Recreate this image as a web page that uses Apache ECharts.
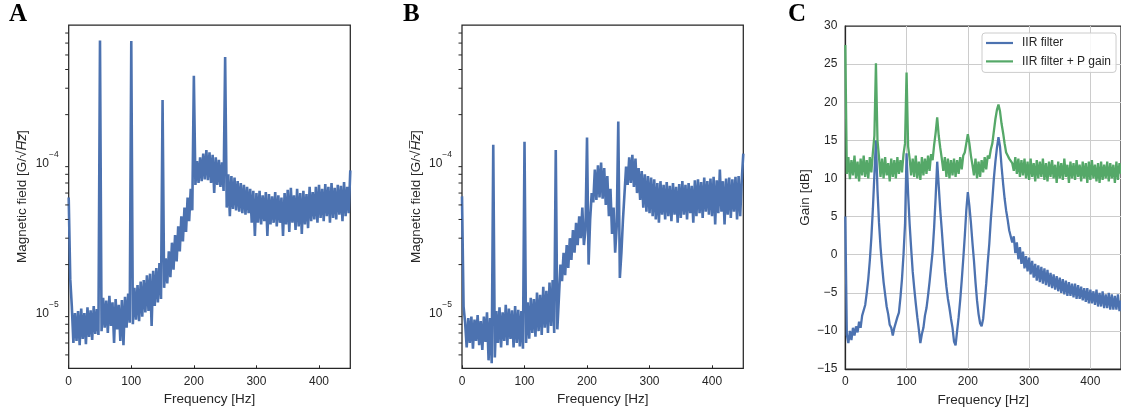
<!DOCTYPE html>
<html>
<head>
<meta charset="utf-8">
<title>Magnetic field spectra and filter gain</title>
<script src="https://cdn.jsdelivr.net/npm/echarts@6.0.0/dist/echarts.min.js"></script>
<style>
html, body { margin: 0; padding: 0; background: #fff; }
#chart { width: 1121px; height: 412px; }
</style>
</head>
<body>
<div id="chart"></div>
<script>
// spectra are sampled every 2.5 Hz, from 0 to 450 Hz
const FREQ_STEP = 2.5;

// panel A: magnetic field noise, in 1e-6 G/sqrt(Hz)
const fieldA = [
    56, 16, 10.5, 6.0, 9.5, 6.2, 9.8, 5.8, 10.2, 6.4,
    9.5, 5.9, 10.4, 6.6, 9.9, 6.3, 10.6, 6.9, 10.1, 6.8,
    624, 7.2, 12.0, 7.6, 11.5, 7.0, 12.4, 7.8, 11.2, 6.0,
    11.8, 7.4, 10.8, 6.2, 11.6, 5.8, 12.2, 7.6, 12.8, 8.2,
    620, 8.0, 14.0, 8.6, 14.6, 8.4, 15.4, 9.0, 15.8, 9.6,
    17.0, 9.8, 17.4, 7.8, 18.2, 10.6, 19.0, 11.2, 20.5, 11.8,
    250, 14.0, 22, 15, 24.5, 16.5, 28, 18.5, 31.5, 21,
    36, 24.5, 42, 28.5, 48, 33, 56, 39, 64, 46,
    363, 68, 98, 70, 104, 72, 110, 74, 116, 73,
    112, 70, 108, 60, 104, 68, 100, 66, 96, 62,
    484, 48, 80, 42, 78, 47, 76, 46, 72, 45,
    70, 44, 68, 43, 66, 44, 64, 38, 62, 31,
    60, 38, 62, 37, 58, 39, 61, 31, 59, 37,
    57, 38, 61, 36, 58, 38, 56, 31, 60, 37,
    63, 33, 65, 38, 58, 34, 64, 36, 60, 32,
    62, 37, 59, 35, 66, 39, 61, 40, 66, 38,
    68, 41, 64, 39, 69, 42, 66, 38, 70, 41,
    65, 40, 68, 43, 67, 39, 71, 42, 66, 44,
    85
];

// panel B: magnetic field noise, in 1e-6 G/sqrt(Hz)
const fieldB = [
    57, 10.5, 8.2, 5.6, 8.8, 6.0, 9.0, 5.5, 8.6, 6.2,
    9.2, 5.8, 8.4, 5.4, 9.0, 6.1, 9.6, 4.6, 8.8, 4.4,
    126, 4.8, 9.8, 6.0, 10.4, 5.6, 9.6, 6.2, 10.8, 5.8,
    10.2, 6.4, 9.9, 5.6, 10.6, 6.0, 10.0, 5.7, 9.8, 5.5,
    132, 6.0, 11.2, 6.4, 12.0, 7.0, 11.8, 6.6, 13.0, 7.2,
    12.6, 6.8, 14.2, 7.6, 13.4, 7.0, 15.2, 7.8, 15.8, 7.0,
    116, 7.4, 12.0, 20.0, 15.5, 24.0, 17.0, 27.0, 19.0, 30.0,
    21.5, 34.0, 24.0, 38.0, 27.0, 42.0, 30.0, 48.0, 27.0, 34.0,
    141, 20.0, 40.0, 60.0, 52.0, 86.0, 54.0, 92.0, 56.0, 96.0,
    55.0, 88.0, 50.0, 78.0, 42.0, 64.0, 32.0, 48.0, 24.0, 36.0,
    180, 16.3, 24.0, 40.0, 60.0, 90.0, 68.0, 104.0, 70.0, 108.0,
    66.0, 102.0, 60.0, 88.0, 54.0, 84.0, 48.0, 80.0, 45.0, 78.0,
    44.0, 76.0, 42.0, 74.0, 40.0, 70.0, 38.0, 72.0, 43.0, 68.0,
    40.0, 71.0, 42.0, 67.0, 39.0, 70.0, 43.0, 66.0, 38.0, 69.0,
    41.0, 72.0, 43.0, 68.0, 40.0, 70.0, 44.0, 67.0, 38.0, 73.0,
    42.0, 74.0, 44.0, 71.0, 41.0, 76.0, 45.0, 72.0, 43.0, 75.0,
    42.0, 77.0, 37.0, 73.0, 44.0, 86.0, 45.0, 72.0, 37.0, 75.0,
    43.0, 76.0, 41.0, 74.0, 45.0, 77.0, 40.0, 78.0, 42.0, 73.0,
    110
];

// panel C: gain in dB
const gainIir = [
    5.0, -10.5, -11.6, -10.0, -11.2, -9.6, -10.6, -9.4, -10.2, -8.8,
    -9.6, -8.0, -8.0, -6.6, -5.0, -3.2, -0.8, 2.2, 6.0, 10.5,
    15.0, 8.5, 4.2, 1.0, -1.4, -3.6, -5.2, -6.8, -7.8, -9.2,
    -9.6, -10.6, -9.6, -9.4, -8.2, -7.6, -5.6, -3.2, 0.0, 4.0,
    13.3, 8.0, 4.0, 0.8, -2.2, -4.4, -6.4, -8.2, -9.8, -11.6,
    -10.4, -9.6, -8.0, -7.0, -5.4, -3.6, -1.6, 0.4, 3.6, 7.6,
    12.2, 9.0, 5.8, 3.2, 0.4, -2.2, -4.2, -5.8, -7.0, -8.4,
    -9.6, -11.4, -11.9, -10.0, -8.2, -6.0, -3.4, -0.6, 2.4, 5.8,
    8.2, 6.4, 4.2, 1.6, -0.8, -3.6, -6.0, -7.8, -9.0, -9.4,
    -8.4, -6.2, -3.8, -1.0, 1.4, 4.6, 7.2, 10.0, 12.2, 14.0,
    15.4, 14.2, 11.6, 9.4, 7.4, 5.8, 4.6, 3.2, 3.0, 1.6,
    2.4, 0.2, 1.6, -0.6, 1.0, -1.2, 0.4, -1.8, -0.2, -2.2,
    -0.4, -2.6, -0.8, -3.0, -1.2, -3.4, -1.4, -3.6, -1.6, -3.8,
    -1.8, -4.0, -2.0, -4.2, -2.4, -4.4, -2.6, -4.6, -2.8, -4.8,
    -3.0, -5.0, -3.2, -5.2, -3.4, -5.4, -3.6, -5.4, -3.8, -5.6,
    -3.8, -5.8, -4.0, -5.8, -4.2, -6.0, -4.4, -6.2, -4.4, -6.4,
    -4.6, -6.4, -4.8, -6.6, -4.6, -6.8, -5.0, -6.8, -4.8, -7.0,
    -5.2, -7.0, -5.0, -7.2, -5.2, -7.2, -5.4, -7.2, -5.2, -7.4,
    -6.0
];

const gainIirP = [
    27.5, 10.6, 12.8, 9.9, 12.4, 10.4, 13.0, 10.0, 12.2, 9.6,
    12.6, 10.4, 13.0, 10.2, 12.4, 10.0, 12.8, 10.8, 13.4, 15.6,
    25.1, 15.0, 12.8, 10.2, 12.6, 10.0, 12.8, 10.4, 12.0, 9.6,
    12.6, 10.2, 12.4, 10.0, 12.8, 10.6, 12.4, 10.8, 13.2, 14.6,
    23.9, 14.2, 12.6, 10.4, 12.6, 10.2, 13.0, 10.0, 12.2, 9.8,
    12.8, 10.4, 12.6, 10.6, 13.0, 11.0, 13.2, 12.4, 14.4, 16.0,
    18.0, 15.6, 14.0, 12.6, 11.0, 12.8, 10.2, 12.6, 10.0, 12.4,
    10.4, 12.6, 10.2, 12.4, 10.6, 12.8, 11.2, 13.0, 13.4, 14.6,
    15.8, 14.6, 13.0, 11.8, 10.4, 12.6, 10.0, 12.2, 10.2, 12.4,
    10.8, 12.8, 11.2, 13.0, 12.6, 13.8, 14.6, 16.2, 17.8, 19.0,
    19.7, 18.8, 17.2, 16.0, 14.6, 13.4, 13.0, 12.6, 12.4, 12.0,
    11.0, 12.8, 10.6, 12.6, 10.2, 12.4, 10.4, 12.6, 10.0, 12.2,
    9.8, 12.6, 10.2, 12.0, 9.6, 12.4, 10.0, 12.2, 10.2, 12.6,
    9.8, 12.0, 9.6, 12.2, 10.2, 12.4, 10.0, 11.8, 9.4, 12.2,
    10.0, 12.0, 9.8, 12.6, 10.2, 11.8, 9.4, 12.2, 10.0, 12.0,
    9.8, 12.4, 10.2, 11.8, 9.6, 12.2, 10.0, 12.0, 9.4, 12.2,
    9.8, 12.4, 10.0, 11.8, 9.6, 12.0, 9.4, 12.2, 9.8, 11.8,
    10.0, 12.2, 9.6, 12.0, 10.0, 11.8, 9.4, 12.2, 9.8, 12.0,
    10.6
];

const seriesNames = ['IIR filter', 'IIR filter + P gain'];
const panelLetters = ['A', 'B', 'C'];

const BLUE = '#4C72B0';
const GREEN = '#55A868';
const INK = '#262626';
const FONT = '"Liberation Sans", Arial, sans-serif';

// log axis range of panels A and B (G/sqrt(Hz))
const logMin = 4.07e-6;
const logMax = 7.92e-4;

function toPairs(values, scale) {
    return values.map(function (v, i) {
        return [i * FREQ_STEP, v * scale];
    });
}

// minor ticks 2..9 x 10^k for the log axes
let minorTicks = [];
[-6, -5, -4].forEach(function (e) {
    for (let m = 2; m <= 9; m++) {
        let v = m * Math.pow(10, e);
        if (v > logMin && v < logMax) minorTicks.push([0, v]);
    }
});

function renderMinorTick(params, api) {
    let p = api.coord([api.value(0), api.value(1)]);
    return {
        type: 'line',
        shape: {x1: p[0] - 3.5, y1: p[1], x2: p[0], y2: p[1]},
        style: {stroke: INK, lineWidth: 1}
    };
}

function powerLabel(v) {
    let e = Math.round(Math.log10(v));
    return '{b|10}{s|' + (e < 0 ? '\u2212' + (-e) : e) + '}';
}

const powRich = {
    b: {fontSize: 12, color: INK, fontFamily: FONT, lineHeight: 20, verticalAlign: 'bottom'},
    s: {fontSize: 8.5, color: INK, fontFamily: FONT, lineHeight: 10, verticalAlign: 'top'}
};

const nameStyle = {fontSize: 13.5, color: INK, fontFamily: FONT};

function freqAxis(gridIndex, withGrid) {
    return {
        type: 'value',
        gridIndex: gridIndex,
        min: 0,
        max: 450,
        interval: 100,
        axisLine: {show: withGrid, onZero: false, lineStyle: {color: INK, width: 1.25}},
        axisTick: {show: !withGrid, inside: true, length: 3, lineStyle: {color: INK, width: 1}},
        axisLabel: {showMaxLabel: false, color: INK, fontSize: 12, fontFamily: FONT, margin: 7},
        splitLine: {show: withGrid, showMinLine: false, showMaxLine: false, lineStyle: {color: '#cccccc', width: 1}},
        name: 'Frequency [Hz]',
        nameLocation: 'middle',
        nameGap: 23,
        nameTextStyle: nameStyle
    };
}

function fieldAxis(gridIndex) {
    return {
        type: 'log',
        gridIndex: gridIndex,
        logBase: 10,
        min: logMin,
        max: logMax,
        axisLine: {show: false},
        axisTick: {show: false},
        splitLine: {show: false},
        axisLabel: {showMinLabel: false, showMaxLabel: false, margin: 10, formatter: powerLabel, rich: powRich},
        name: 'Magnetic field [G/\u221A{hz|H\u0305z\u0305}]',
        nameLocation: 'middle',
        nameRotate: 90,
        nameGap: 39,
        nameTextStyle: Object.assign({rich: {hz: {fontSize: 13.5, fontStyle: 'italic', color: INK, fontFamily: FONT}}}, nameStyle)
    };
}

function gridBox(left, top, width, height) {
    return {
        left: left, top: top, width: width, height: height,
        show: true, borderColor: INK, borderWidth: 1.25, backgroundColor: 'transparent'
    };
}

function fieldSeries(index, values) {
    return {
        type: 'line',
        xAxisIndex: index,
        yAxisIndex: index,
        data: toPairs(values, 1e-6),
        symbol: 'none',
        showSymbol: false,
        lineStyle: {color: BLUE, width: 2.6},
        itemStyle: {color: BLUE},
        silent: true,
        z: 3
    };
}

function tickSeries(index) {
    return {
        type: 'custom',
        xAxisIndex: index,
        yAxisIndex: index,
        data: minorTicks,
        encode: {x: 0, y: 1},
        renderItem: renderMinorTick,
        clip: false,
        silent: true,
        z: 5
    };
}

function gainSeries(name, values, color) {
    return {
        type: 'line',
        name: name,
        xAxisIndex: 2,
        yAxisIndex: 2,
        data: toPairs(values, 1),
        symbol: 'none',
        showSymbol: false,
        lineStyle: {color: color, width: 2.3},
        itemStyle: {color: color},
        silent: true,
        z: 3
    };
}

let myChart = echarts.init(document.getElementById('chart'), null, {renderer: 'canvas'});

let option = {
    animation: false,
    backgroundColor: '#ffffff',
    textStyle: {fontFamily: FONT},
    grid: [
        gridBox(68.7, 25, 281.6, 343.3),
        gridBox(462, 25, 281.3, 343.3),
        gridBox(845.3, 26, 281, 343)
    ],
    xAxis: [freqAxis(0, false), freqAxis(1, false), freqAxis(2, true)],
    yAxis: [
        fieldAxis(0),
        fieldAxis(1),
        {
            type: 'value',
            gridIndex: 2,
            min: -15,
            max: 30,
            interval: 5,
            axisLine: {show: true, onZero: false, lineStyle: {color: INK, width: 1.25}},
            axisTick: {show: false},
            axisLabel: {
                color: INK, fontSize: 12, fontFamily: FONT, margin: 8,
                formatter: function (v) { return String(v).replace('-', '\u2212'); }
            },
            splitLine: {show: true, showMinLine: false, showMaxLine: false, lineStyle: {color: '#cccccc', width: 1}},
            name: 'Gain [dB]',
            nameLocation: 'middle',
            nameRotate: 90,
            nameGap: 33,
            nameTextStyle: nameStyle
        }
    ],
    legend: {
        data: seriesNames,
        orient: 'vertical',
        left: 982,
        top: 33,
        icon: 'rect',
        itemWidth: 27,
        itemHeight: 2.2,
        itemGap: 4.4,
        padding: [3, 5, 4, 4],
        backgroundColor: 'rgba(255,255,255,0.85)',
        borderColor: '#cccccc',
        borderWidth: 1,
        borderRadius: 3,
        textStyle: {fontSize: 12, lineHeight: 14, color: INK, fontFamily: FONT, padding: [0, 0, 0, 4]}
    },
    graphic: panelLetters.map(function (t, i) {
        return {
            type: 'text',
            x: [9, 403, 788][i],
            y: 15,
            style: {
                text: t,
                font: 'bold 25px "Liberation Serif", "Times New Roman", serif',
                fill: '#000000',
                verticalAlign: 'middle'
            }
        };
    }),
    series: [
        fieldSeries(0, fieldA),
        tickSeries(0),
        fieldSeries(1, fieldB),
        tickSeries(1),
        gainSeries(seriesNames[0], gainIir, BLUE),
        gainSeries(seriesNames[1], gainIirP, GREEN)
    ]
};

myChart.setOption(option);
</script>
</body>
</html>
